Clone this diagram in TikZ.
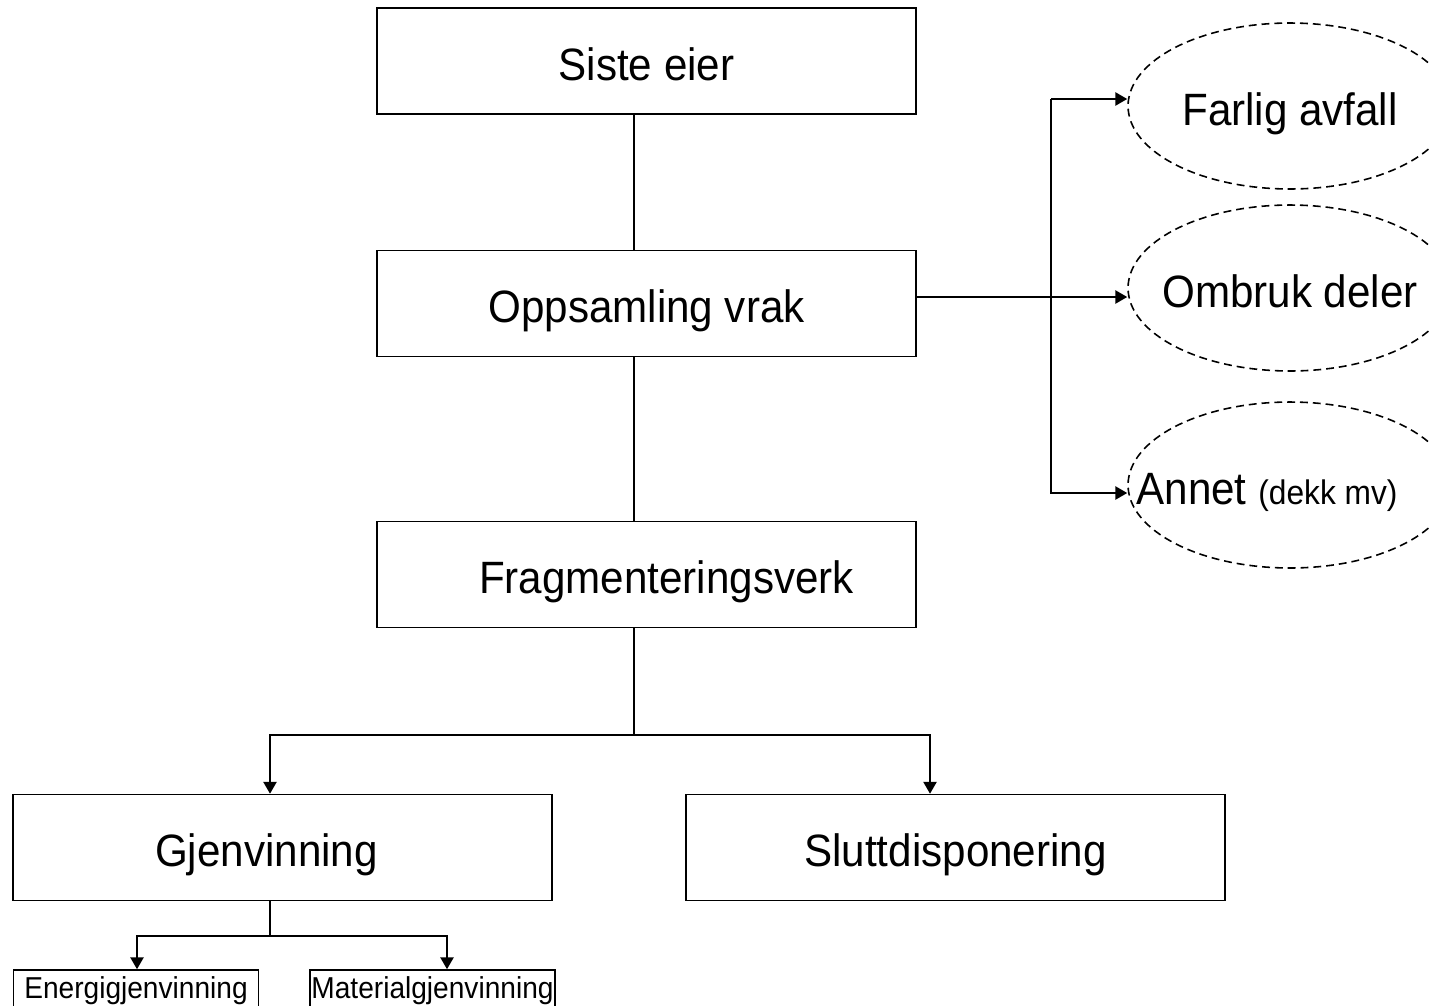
\documentclass[tikz,border=0pt]{standalone}
\usepackage{fontspec}
\setmainfont{Liberation Sans}[FakeStretch=0.93]
\usetikzlibrary{arrows.meta,shapes.geometric}

\begin{document}
\begin{tikzpicture}[
    x=0.02cm, y=-0.02cm,
    box/.style={rectangle, draw, line width=0.9pt, minimum width=10.78cm, minimum height=2.12cm, inner sep=0pt, text height=22pt, text depth=0pt, font=\fontsize{25.8}{30}\selectfont},
    smallbox/.style={rectangle, draw, line width=0.9pt, minimum width=4.9cm, minimum height=0.84cm, inner sep=0pt, font=\fontsize{17.2}{20}\selectfont},
    oval/.style={ellipse, draw, dash pattern=on 4.5pt off 2.8pt, line width=0.9pt, minimum width=6.48cm, minimum height=3.32cm, inner xsep=-1.5cm, inner ysep=0pt, text height=22pt, text depth=0pt, font=\fontsize{25.8}{30}\selectfont},
    link/.style={line width=0.8pt},
    arr/.style={-{Triangle[length=6.8pt,width=7.5pt]}, line width=1.2pt}
  ]
    \clip (0,0) rectangle (1429,1005);
    \fill[white] (0,0) rectangle (1429,1005);
    % main column
    \node[box] (siste) at (646.5,61) {Siste eier};
    \node[box] (oppsam) at (646.5,303.5) {Oppsamling vrak};
    \node[box] (frag) at (646.5,574.5) {\hspace*{0.8cm}Fragmenteringsverk};
    \node[box] (gjen) at (282.5,847.5) {Gjenvinning\hspace*{0.64cm}};
    \node[box] (slutt) at (955.5,847.5) {Sluttdisponering};
    \node[smallbox] (energi) at (136,991) {Energigjenvinning};
    \node[smallbox] (mat) at (432.5,991) {Materialgjenvinning};
    % side outlets
    \node[oval] (farlig) at (1290,106) {Farlig avfall};
    \node[oval] (ombruk) at (1290,288) {Ombruk deler};
    \node[oval] (annet) at (1290,485) {Annet {\fontsize{19.4}{23}\selectfont(dekk mv)}\hspace*{0.92cm}};
    % branch points
    \coordinate (spine) at (634,0);
    \coordinate (split) at (634,735);
    \coordinate (lsplit) at (270,735);
    \coordinate (rsplit) at (930,735);
    \coordinate (subsplit) at (270,936);
    \coordinate (lsub) at (137,936);
    \coordinate (rsub) at (447,936);
    \coordinate (ftop) at (1051,99);
    \coordinate (fmid) at (1051,297);
    \coordinate (fbot) at (1051,493);
    % connectors
    \draw[link] (siste.south -| spine) -- (oppsam.north -| spine);
    \draw[link] (oppsam.south -| spine) -- (frag.north -| spine);
    \draw[arr] (frag.south -| spine) -- (split) -| (lsplit |- gjen.north);
    \draw[arr] (split) -| (rsplit |- slutt.north);
    \draw[arr] (gjen.south -| subsplit) -- (subsplit) -| (lsub |- energi.north);
    \draw[arr] (subsplit) -| (rsub |- mat.north);
    \draw[arr] (oppsam.east |- fmid) -- (fmid -| ombruk.west);
    \draw[arr] (ftop) -- (ftop -| farlig.west);
    \draw[arr] (ftop) -- (fbot) -- (fbot -| annet.west);
\end{tikzpicture}
\end{document}
